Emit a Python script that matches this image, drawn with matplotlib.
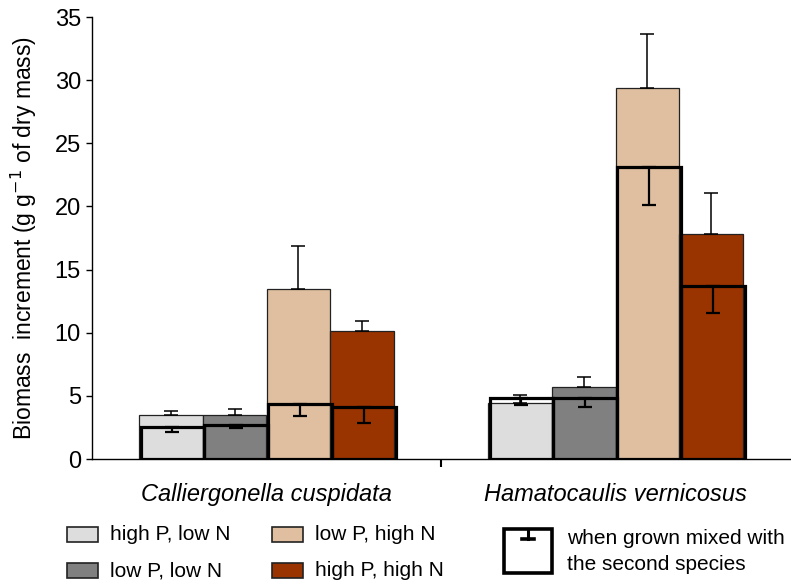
import numpy as np
import matplotlib.pyplot as plt
from matplotlib.patches import Rectangle
from matplotlib.lines import Line2D

plt.rcParams['font.family'] = ['Liberation Sans', 'DejaVu Sans']

# data
species = ["Calliergonella cuspidata", "Hamatocaulis vernicosus"]
treatments = ["high P, low N", "low P, low N", "low P, high N", "high P, high N"]
colors = ["#dddddd", "#808080", "#dfbf9f", "#993300"]

# grown alone (error bars upward)
mono = [[3.48, 3.48, 13.46, 10.13],
        [4.45, 5.73, 29.4, 17.8]]
mono_err = [[0.32, 0.48, 3.4, 0.77],
            [0.62, 0.79, 4.25, 3.26]]
# grown mixed with the second species (error bars downward)
mixed = [[2.53, 2.7, 4.35, 4.1],
         [4.85, 4.85, 23.14, 13.72]]
mixed_err = [[0.39, 0.25, 0.95, 1.25],
             [0.57, 0.71, 3.04, 2.14]]

W, H = 791, 585
fig = plt.figure(figsize=(W / 100, H / 100), dpi=100)
ax = fig.add_axes([92 / W, 1 - 459 / H, 698 / W, 442 / H])

width = 0.183
centers = np.array([0.5, 1.5])
offsets = (np.arange(4) - 1.5) * width

for g in range(2):
    for i in range(4):
        x = centers[g] + offsets[i]
        ax.bar(x, mono[g][i], width, color=colors[i], edgecolor="#222222",
               linewidth=0.9, zorder=2)
        ax.errorbar(x, mono[g][i], yerr=[[0], [mono_err[g][i]]], color="black",
                    lw=1.1, capsize=4.7, capthick=1.1, zorder=3)
for g in range(2):
    for i in range(4):
        x = centers[g] + offsets[i] + 0.005
        ax.bar(x, mixed[g][i], width, fill=False, edgecolor="black",
               linewidth=2.3, zorder=4)
        ax.errorbar(x, mixed[g][i], yerr=[[mixed_err[g][i]], [0]], color="black",
                    lw=1.6, capsize=5, capthick=1.6, zorder=5)

ax.set_xlim(0, 2)
ax.set_ylim(0, 35)
ax.set_yticks(range(0, 36, 5))
ax.spines['top'].set_visible(False)
ax.spines['right'].set_visible(False)
ax.spines['left'].set_linewidth(1.0)
ax.spines['bottom'].set_linewidth(1.0)
ax.tick_params(axis='y', labelsize=17, length=4, width=1.0, pad=4)
ax.set_xticks(centers)
ax.set_xticklabels(species, fontsize=17, style='italic')
ax.tick_params(axis='x', length=0, pad=17)
ax.set_xticks([1], minor=True)
ax.tick_params(axis='x', which='minor', length=6, width=1.5)
ax.set_ylabel("Biomass  increment (g g$^{-1}$ of dry mass)", fontsize=16.5, labelpad=11)

# legend drawn by hand
def fx(px):
    return px / W

def fy(py):
    return 1 - py / H

box_pos = [(67, 527), (67, 563), (272, 527), (272, 563)]
for (bx, by), c, lab in zip(box_pos, colors, treatments):
    fig.patches.append(Rectangle((fx(bx), fy(by + 15)), 31 / W, 15 / H,
                                 facecolor=c, edgecolor="#222222", lw=1.2,
                                 transform=fig.transFigure))
    fig.text(fx(bx + 43), fy(by + 8), lab, fontsize=15, va='center', ha='left')

fig.patches.append(Rectangle((fx(504), fy(573)), 48 / W, 44 / H, fill=False,
                             edgecolor="black", lw=2.6, transform=fig.transFigure))
fig.lines.append(Line2D([fx(528), fx(528)], [fy(529), fy(539)], color="black",
                        lw=2.2, transform=fig.transFigure))
fig.lines.append(Line2D([fx(522), fx(534)], [fy(539), fy(539)], color="black",
                        lw=2.6, transform=fig.transFigure))
fig.text(fx(567), fy(538), "when grown mixed with", fontsize=15, va='center', ha='left')
fig.text(fx(567), fy(565), "the second species", fontsize=15, va='center', ha='left')

fig.savefig("out.png", dpi=100)
